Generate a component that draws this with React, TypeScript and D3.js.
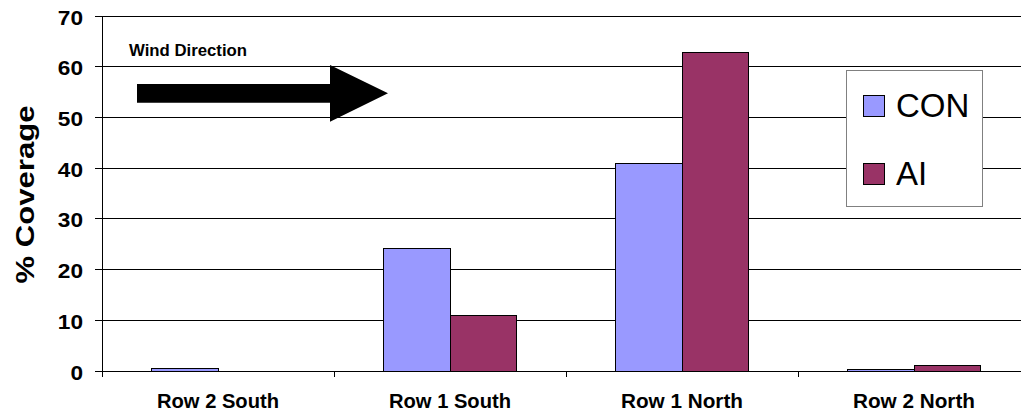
import React from "react";
import * as d3 from "d3";

// Chart data
const categories = ["Row 2 South", "Row 1 South", "Row 1 North", "Row 2 North"];
const seriesNames = ["CON", "AI"];
const conValues = [0.5, 24.1, 41.0, 0.3];
const aiValues = [0, 11.0, 62.8, 1.1];
const yTicks = [0, 10, 20, 30, 40, 50, 60, 70];

const seriesColors: Record<string, string> = { CON: "#9999FF", AI: "#993366" };

const W = 1021;
const H = 417;
const plot = { left: 102, right: 1030, top: 16, bottom: 371 };
const FONT = "Arial, 'Liberation Sans', Helvetica, sans-serif";

export default function App() {
  const x = d3
    .scaleBand<string>()
    .domain(categories)
    .range([plot.left, plot.right])
    .paddingInner(0)
    .paddingOuter(0);
  const groupW = (x.step() * 2) / 3.5; // Excel-style 150% gap width
  const x1 = d3.scaleBand<string>().domain(seriesNames).range([0, groupW]);
  const y = d3.scaleLinear().domain([0, 70]).range([plot.bottom, plot.top]);

  const rows = categories.map((c, i) => ({ cat: c, CON: conValues[i], AI: aiValues[i] }));

  const boundaries = categories.map((c) => x(c) as number).concat([plot.right]);

  return (
    <svg
      width={W}
      height={H}
      style={{ position: "absolute", left: 0, top: 0, background: "#fff" }}
      fontFamily={FONT}
    >
      <rect x={0} y={0} width={W} height={H} fill="#fff" />
      {/* horizontal gridlines */}
      {yTicks.map((t) => (
        <line
          key={"g" + t}
          x1={plot.left}
          x2={plot.right}
          y1={y(t)}
          y2={y(t)}
          stroke="#000"
          strokeWidth={1}
          shapeRendering="crispEdges"
        />
      ))}
      {/* y axis ticks and labels */}
      {yTicks.map((t) => (
        <g key={"t" + t}>
          <line
            x1={plot.left - 7}
            x2={plot.left}
            y1={y(t)}
            y2={y(t)}
            stroke="#000"
            shapeRendering="crispEdges"
          />
          <text
            x={83}
            y={y(t) + 8.5}
            textAnchor="end"
            fontSize={21}
            fontWeight="bold"
            textLength={String(t).length * 12.6}
            lengthAdjust="spacingAndGlyphs"
            fill="#000"
          >
            {t}
          </text>
        </g>
      ))}
      {/* bars */}
      {rows.map((r) => {
        const gx = (x(r.cat) as number) + (x.step() - groupW) / 2;
        return (
          <g key={r.cat}>
            {seriesNames.map((s) => {
              const v = (r as any)[s] as number;
              return (
                <rect
                  key={s}
                  x={gx + (x1(s) as number)}
                  y={y(v)}
                  width={x1.bandwidth()}
                  height={y(0) - y(v)}
                  fill={seriesColors[s]}
                  stroke="#000"
                  strokeWidth={1}
                  shapeRendering="crispEdges"
                />
              );
            })}
          </g>
        );
      })}
      {/* axes */}
      <line
        x1={plot.left}
        x2={plot.left}
        y1={plot.top}
        y2={plot.bottom + 6}
        stroke="#000"
        shapeRendering="crispEdges"
      />
      <line
        x1={plot.left}
        x2={plot.right}
        y1={plot.bottom}
        y2={plot.bottom}
        stroke="#000"
        shapeRendering="crispEdges"
      />
      {boundaries.map((b, i) => (
        <line
          key={"ct" + i}
          x1={b}
          x2={b}
          y1={plot.bottom}
          y2={plot.bottom + 6}
          stroke="#000"
          shapeRendering="crispEdges"
        />
      ))}
      {/* category labels */}
      {categories.map((c) => (
        <text
          key={"c" + c}
          x={(x(c) as number) + x.step() / 2}
          y={407.5}
          textAnchor="middle"
          fontSize={19.5}
          fontWeight="bold"
          textLength={122}
          lengthAdjust="spacingAndGlyphs"
          fill="#000"
        >
          {c}
        </text>
      ))}
      {/* y axis title */}
      <text
        transform={`translate(34, ${(plot.top + plot.bottom) / 2 + 1}) rotate(-90)`}
        textAnchor="middle"
        fontSize={26}
        fontWeight="bold"
        textLength={178}
        lengthAdjust="spacingAndGlyphs"
        fill="#000"
      >
        % Coverage
      </text>
      {/* wind direction annotation */}
      <text x={129} y={55.7} fontSize={16} fontWeight="bold" textLength={118} lengthAdjust="spacingAndGlyphs" fill="#000">
        Wind Direction
      </text>
      <polygon
        points="137,84 330,84 330,65 388,93.3 330,121.7 330,102.7 137,102.7"
        fill="#000"
      />
      {/* legend */}
      <rect x={846.5} y={70.5} width={136} height={136} fill="#fff" stroke="#808080" strokeWidth={1} />
      {seriesNames.map((s, i) => {
        const top = 95 + i * 67.7;
        return (
          <g key={"l" + s}>
            <rect
              x={863.5}
              y={Math.round(top) + 0.5}
              width={21}
              height={21}
              fill={seriesColors[s]}
              stroke="#000"
              strokeWidth={1}
            />
            <text x={896} y={top + 22.3} fontSize={33} fill="#000">
              {s}
            </text>
          </g>
        );
      })}
    </svg>
  );
}
